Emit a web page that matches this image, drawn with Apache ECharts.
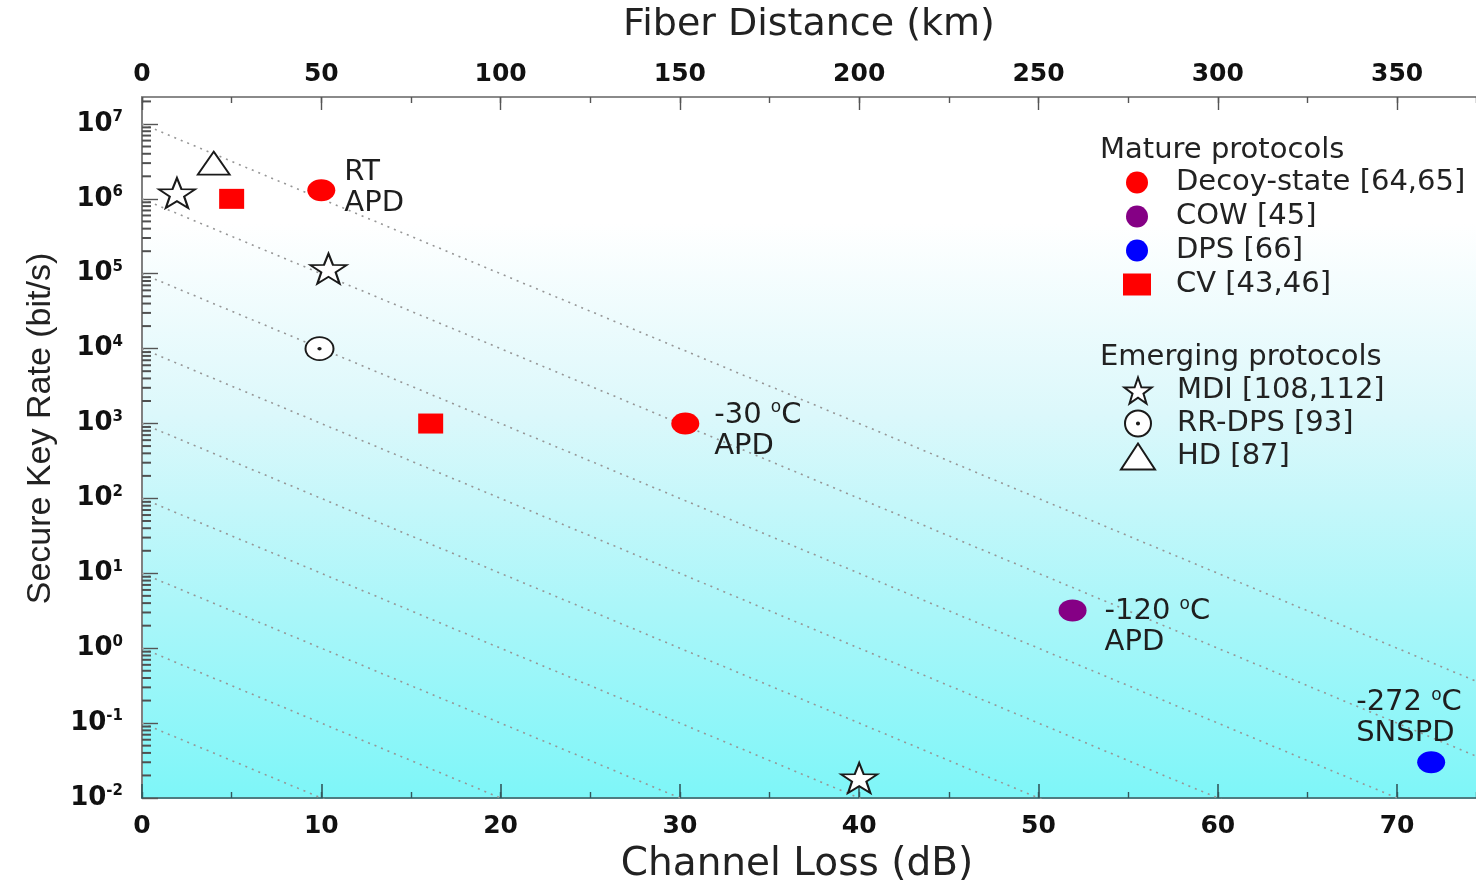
<!DOCTYPE html>
<html>
<head>
<meta charset="utf-8">
<script src="https://cdn.jsdelivr.net/npm/echarts@6/dist/echarts.min.js"></script>
<style>html,body{margin:0;padding:0;background:#fff}#chart{width:1476px;height:882px}</style>
</head>
<body>
<div id="chart"></div>
<script>
// ---------- axes ----------
const lossMax = 74.4;          // dB at the right edge of the plot
const kmPerDb = 5;             // 0.2 dB/km fiber
const rateMin = 0.01;
const rateMax = Math.pow(10, 7.36);
const guideDecades = [7, 6, 5, 4, 3, 2, 1, 0, -1];   // dotted iso-lines: 1 decade per 10 dB

// ---------- data (channel loss dB, secure key rate bit/s) ----------
const decoyLoss = [10, 30.3];
const decoyRate = [1.3e6, 1e3];
const decoyNotes = ['RT\nAPD', '-30 {sup|o}C\nAPD'];

const cowLoss = [51.9];
const cowRate = [3.2];
const cowNotes = ['-120 {sup|o}C\nAPD'];

const dpsLoss = [71.9];
const dpsRate = [0.03];
const dpsNotes = ['-272 {sup|o}C\nSNSPD'];

const cvLoss = [5, 16.1];
const cvRate = [1e6, 1e3];

const mdiLoss = [1.95, 10.4, 40];
const mdiRate = [1.2e6, 1.17e5, 0.0185];

const rrLoss = [9.9];
const rrRate = [1e4];

const hdLoss = [4];
const hdRate = [3e6];

const matureNames = ['Decoy-state [64,65]', 'COW [45]', 'DPS [66]', 'CV [43,46]'];
const emergingNames = ['MDI [108,112]', 'RR-DPS [93]', 'HD [87]'];
const groupTitles = ['Mature protocols', 'Emerging protocols'];

// ---------- styles ----------
const FONT = 'DejaVu Sans';
const ellipse = 'path://M0,50A50,50,0,1,1,100,50A50,50,0,1,1,0,50Z';
const star = 'path://M50,0L61.76,33.82L97.55,34.55L69.02,56.18L79.39,90.45L50,70L20.61,90.45L30.98,56.18L2.45,34.55L38.24,33.82Z';
const dotCircle = 'path://M0,50A50,50,0,1,1,100,50A50,50,0,1,1,0,50ZM46,50A4,4,0,1,1,54,50A4,4,0,1,1,46,50Z';

const noteStyle = {fontFamily: FONT, fontSize: 29, lineHeight: 31, color: '#1e1e1e',
  rich: {sup: {fontFamily: FONT, fontSize: 17, lineHeight: 31, verticalAlign: 'top', color: '#1e1e1e'}}};
const decoyNoteLayout = [
  {position: 'right', distance: 9, offset: [0, -2]},
  {position: 'right', distance: 15, offset: [0, 7]}
];
const cowNoteLayout = [{position: 'right', distance: 18, offset: [0, 17]}];
const dpsNoteLayout = [{position: 'top', distance: 2, align: 'left', offset: [-75, 0]}];

function points(loss, rate, notes, layouts) {
  return loss.map((x, i) => {
    const d = {value: [x, rate[i]]};
    if (notes && notes[i]) {
      d.label = Object.assign({show: true, formatter: notes[i]}, noteStyle, layouts[i]);
    }
    return d;
  });
}

// minor log ticks on the y axis (2..9 x 10^n)
const minorTickVals = [];
for (let n = -2; n <= 7; n++) {
  for (let k = 2; k <= 9; k++) {
    const v = k * Math.pow(10, n);
    if (v <= rateMax) minorTickVals.push(v);
  }
}

const guideSeries = guideDecades.map(k => ({
  type: 'line', xAxisIndex: 0, yAxisIndex: 0, silent: true, z: 1,
  symbol: 'none', clip: true,
  lineStyle: {color: '#969696', width: 1.6, type: [2, 5]},
  data: [[0, Math.pow(10, k)], [lossMax, Math.pow(10, k - lossMax / 10)]]
}));

const scatterBase = {type: 'scatter', xAxisIndex: 0, yAxisIndex: 0, z: 5};

const series = guideSeries.concat([
  Object.assign({}, scatterBase, {name: matureNames[0], symbol: ellipse, symbolSize: [28, 22],
    itemStyle: {color: '#ff0000', opacity: 1}, data: points(decoyLoss, decoyRate, decoyNotes, decoyNoteLayout)}),
  Object.assign({}, scatterBase, {name: matureNames[1], symbol: ellipse, symbolSize: [28, 22],
    itemStyle: {color: '#850085', opacity: 1}, data: points(cowLoss, cowRate, cowNotes, cowNoteLayout)}),
  Object.assign({}, scatterBase, {name: matureNames[2], symbol: ellipse, symbolSize: [28, 22],
    itemStyle: {color: '#0000ff', opacity: 1}, data: points(dpsLoss, dpsRate, dpsNotes, dpsNoteLayout)}),
  Object.assign({}, scatterBase, {name: matureNames[3], symbol: 'rect', symbolSize: [25, 20],
    itemStyle: {color: '#ff0000', opacity: 1}, data: points(cvLoss, cvRate)}),
  Object.assign({}, scatterBase, {name: emergingNames[0], symbol: star, symbolSize: [36, 30],
    itemStyle: {color: '#ffffff', borderColor: '#1a1a1a', borderWidth: 2, opacity: 1}, data: points(mdiLoss, mdiRate)}),
  Object.assign({}, scatterBase, {name: emergingNames[1], symbol: dotCircle, symbolSize: [28, 23],
    itemStyle: {color: '#ffffff', borderColor: '#1a1a1a', borderWidth: 1.8, opacity: 1}, data: points(rrLoss, rrRate)}),
  Object.assign({}, scatterBase, {name: emergingNames[2], symbol: 'triangle', symbolSize: [32, 23],
    itemStyle: {color: '#ffffff', borderColor: '#1a1a1a', borderWidth: 1.8, opacity: 1}, data: points(hdLoss, hdRate)}),
  { // minor log ticks on the left axis
    name: 'minor ticks', type: 'scatter', xAxisIndex: 0, yAxisIndex: 0, silent: true, z: 6, clip: false,
    symbol: 'rect', symbolSize: [9, 2], symbolOffset: [4.5, 0],
    itemStyle: {color: '#505050', opacity: 1},
    label: {show: false},
    data: minorTickVals.map(v => [0, v])
  }
]);

const tickLabel = {fontFamily: FONT, fontWeight: 'bold', fontSize: 25, color: '#111'};

const legendText = {fontFamily: FONT, fontSize: 29, color: '#222'};

const option = {
  animation: false,
  backgroundColor: '#ffffff',
  title: [
    {text: groupTitles[0], left: 1100, top: 136, padding: 0, textStyle: {fontFamily: FONT, fontSize: 29, fontWeight: 'normal', color: '#222'}},
    {text: groupTitles[1], left: 1100, top: 343, padding: 0, textStyle: {fontFamily: FONT, fontSize: 29, fontWeight: 'normal', color: '#222'}}
  ],
  grid: {left: 142, right: 0, top: 97, bottom: 84, containLabel: false, outerBoundsMode: 'none',
    show: true, borderWidth: 0,
    backgroundColor: {type: 'linear', x: 0, y: 0, x2: 0, y2: 1, colorStops: [
      {offset: 0, color: '#ffffff'}, {offset: 0.18, color: '#ffffff'},
      {offset: 0.45, color: '#dcf8fb'}, {offset: 0.72, color: '#acf6f9'}, {offset: 1, color: '#7ef6f8'}]}},
  legend: [
    {data: matureNames, orient: 'vertical', left: 1123, top: 168, padding: 0,
      itemWidth: 28, itemHeight: 22, itemGap: 5, selectedMode: false,
      itemStyle: {opacity: 1},
      formatter: name => '{t|' + name + '}',
      textStyle: Object.assign({}, legendText, {rich: {t: Object.assign({padding: [0, 0, 0, 20]}, legendText)}})},
    {data: emergingNames, orient: 'vertical', left: 1120, top: 376, padding: 0,
      itemWidth: 34, itemHeight: 26, itemGap: 4, selectedMode: false,
      itemStyle: {opacity: 1},
      formatter: name => '{t|' + name + '}',
      textStyle: Object.assign({}, legendText, {rich: {t: Object.assign({padding: [0, 0, 0, 17]}, legendText)}})}
  ],
  xAxis: [
    { // channel loss (bottom)
      type: 'value', position: 'bottom', min: 0, max: lossMax, interval: 10,
      name: 'Channel Loss (dB)', nameLocation: 'middle', nameGap: 47,
      nameTextStyle: {fontFamily: FONT, fontSize: 39, color: '#222', padding: [0, 24, 0, 0]},
      axisLine: {show: true, lineStyle: {color: '#4e7d82', width: 2}},
      axisTick: {show: true, inside: true, length: 14, lineStyle: {color: '#33585c', width: 1.6}},
      axisLabel: Object.assign({margin: 16, showMaxLabel: false}, tickLabel),
      splitLine: {show: false}
    },
    { // fiber distance (top)
      type: 'value', position: 'top', min: 0, max: lossMax * kmPerDb, interval: 50,
      name: 'Fiber Distance (km)', nameLocation: 'middle', nameGap: 53,
      nameTextStyle: {fontFamily: FONT, fontSize: 38, color: '#222'},
      axisLine: {show: true, lineStyle: {color: '#8a8a8a', width: 2}},
      axisTick: {show: true, inside: true, length: 13, lineStyle: {color: '#555', width: 1.4}},
      axisLabel: Object.assign({margin: 10, showMaxLabel: false}, tickLabel),
      splitLine: {show: false}
    },
    { // bottom minor ticks
      type: 'value', position: 'bottom', min: 0, max: lossMax, interval: 5,
      axisLine: {show: false}, axisLabel: {show: false}, splitLine: {show: false},
      axisTick: {show: true, inside: true, length: 6, lineStyle: {color: '#33585c', width: 1.4}}
    },
    { // top minor ticks
      type: 'value', position: 'top', min: 0, max: lossMax * kmPerDb, interval: 25,
      axisLine: {show: false}, axisLabel: {show: false}, splitLine: {show: false},
      axisTick: {show: true, inside: true, length: 6, lineStyle: {color: '#555', width: 1.4}}
    }
  ],
  yAxis: [{
    type: 'log', logBase: 10, min: rateMin, max: rateMax, splitNumber: 10,
    name: 'Secure Key Rate (bit/s)', nameLocation: 'middle', nameGap: 84,
    nameTextStyle: {fontFamily: 'Liberation Sans', fontSize: 34, color: '#222', padding: [0, 0, 0, 38]},
    axisLine: {show: true, lineStyle: {color: '#808080', width: 2}},
    axisTick: {show: true, inside: true, length: 16, lineStyle: {color: '#555', width: 1.4}},
    axisLabel: {
      margin: 19, showMaxLabel: false,
      formatter: v => '{b|10}{s|' + Math.round(Math.log10(v)) + '}',
      rich: {
        b: {fontFamily: FONT, fontWeight: 'bold', fontSize: 26, color: '#111', lineHeight: 28},
        s: {fontFamily: FONT, fontWeight: 'bold', fontSize: 15, color: '#111', lineHeight: 28, verticalAlign: 'top'}
      }
    },
    splitLine: {show: false}
  }],
  series: series
};

const chart = echarts.init(document.getElementById('chart'), null, {renderer: 'canvas'});
chart.setOption(option);
</script>
</body>
</html>
